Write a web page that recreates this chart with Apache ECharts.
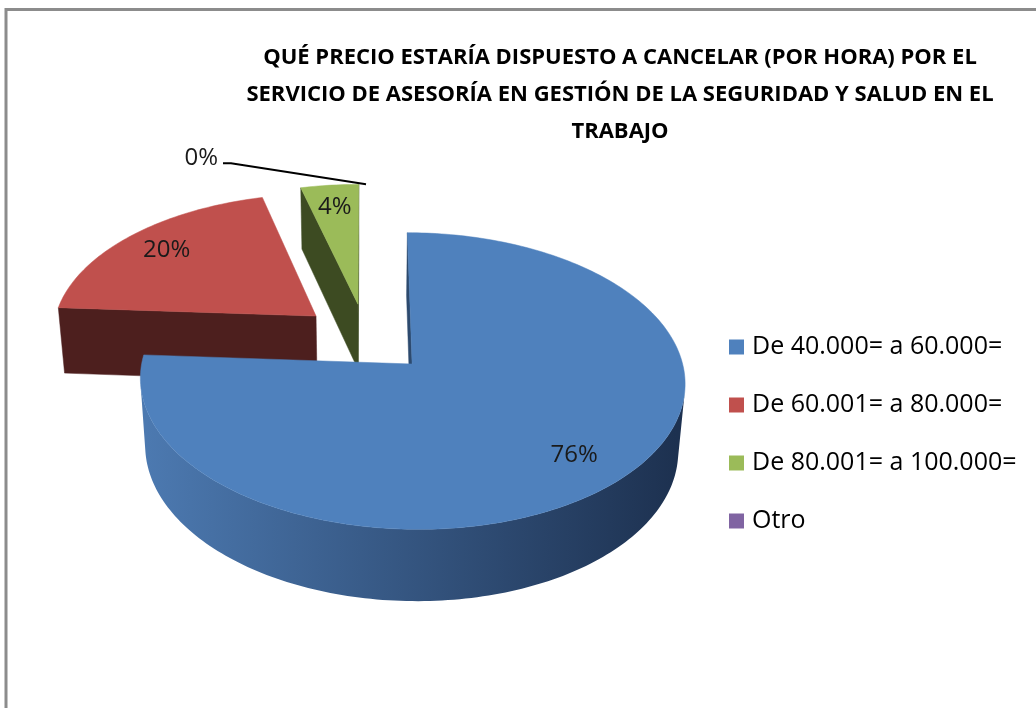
<!DOCTYPE html>
<html>
<head>
    <meta charset="utf-8">
    <title>Precio por hora</title>
    <script src="https://cdn.jsdelivr.net/npm/echarts/dist/echarts.min.js"></script>
    <style>
        html, body { margin: 0; padding: 0; background: #fff; }
    </style>
</head>
<body>
<div id="main" style="width: 1036px;height:708px;"></div>
<script type="text/javascript">
// datos
var titleText = 'QUÉ PRECIO ESTARÍA DISPUESTO A CANCELAR (POR HORA) POR EL\nSERVICIO DE ASESORÍA EN GESTIÓN DE LA SEGURIDAD Y SALUD EN EL\nTRABAJO';
var categories = ['De 40.000= a 60.000=', 'De 60.001= a 80.000=', 'De 80.001= a 100.000=', 'Otro'];
var values = [76, 20, 4, 0];

// colores (cara superior, paredes radiales, lateral exterior)
var topColors = ['#4f81bd', '#c0504d', '#9bbb59', '#8064a2'];
var wallColors = ['#2d4a6e', '#4d1f1e', '#3d4b22', '#4a3a5f'];
var sideLight = ['#4c79b0', '#7a2f2d', '#5c7035', '#5d4878'];
var sideDark = ['#1d3150', '#4a1c1b', '#39461f', '#3a2c4c'];

// geometria del pastel 3D
var CX = 366, CY = 338, R = 265, H = 80, EXPLODE = 66, D = 2000;
var SIN = 0.53, COS = Math.sqrt(1 - SIN * SIN);
var CAM = [0, -D * COS];
var FONT = '"Open Sans", "Noto Sans", sans-serif';

function proj(X, Y, Z) {
    var s = D / (D + Y * COS - Z * SIN);
    return [CX + s * X, CY - s * (Y * SIN + Z * COS)];
}

var total = values.reduce(function (a, b) { return a + b; }, 0);
var slices = [];
var cum = 0;
values.forEach(function (v) {
    var a0 = 2 * Math.PI * cum / total;
    var a1 = 2 * Math.PI * (cum + v) / total;
    var mid = (a0 + a1) / 2;
    slices.push({ a0: a0, a1: a1, mid: mid, ox: EXPLODE * Math.sin(mid), oy: EXPLODE * Math.cos(mid) });
    cum += v;
});

// orden de pintado: lo de atras primero
var order = values.map(function (v, i) { return i; }).sort(function (a, b) {
    if (values[a] === 0) return 1;
    if (values[b] === 0) return -1;
    return slices[b].oy - slices[a].oy;
});
var zOf = [];
order.forEach(function (idx, k) { zOf[idx] = 2 + k; });

function renderSlice(i) {
    return function (params, api) {
        var sl = slices[i];
        var v = api.value(0);
        var ox = sl.ox, oy = sl.oy;
        var kids = [];
        function pt(th, r, z) {
            return proj(ox + r * Math.sin(th), oy + r * Math.cos(th), z);
        }
        var pct = Math.round(v / total * 100) + '%';
        if (v > 0) {
            var n = Math.max(2, Math.ceil((sl.a1 - sl.a0) / 0.02));
            var ths = [];
            for (var k = 0; k <= n; k++) ths.push(sl.a0 + (sl.a1 - sl.a0) * k / n);

            // paredes radiales
            [[sl.a0, -1], [sl.a1, 1]].forEach(function (w) {
                var th = w[0], sg = w[1];
                var nx = sg * Math.cos(th), ny = -sg * Math.sin(th);
                var mx = ox + R / 2 * Math.sin(th), my = oy + R / 2 * Math.cos(th);
                if (nx * (CAM[0] - mx) + ny * (CAM[1] - my) > 0) {
                    kids.push({
                        type: 'polygon',
                        shape: { points: [pt(0, 0, 0), pt(th, R, 0), pt(th, R, -H), pt(0, 0, -H)] },
                        style: { fill: wallColors[i], stroke: wallColors[i], lineWidth: 0.5 }
                    });
                }
            });

            // lateral exterior visible
            var grad = new echarts.graphic.LinearGradient(CX + ox - R, 0, CX + ox + R, 0, [
                { offset: 0, color: sideLight[i] },
                { offset: 1, color: sideDark[i] }
            ], true);
            var run = [];
            function flush() {
                if (run.length > 1) {
                    var top = run.map(function (th) { return pt(th, R, 0); });
                    var bot = run.map(function (th) { return pt(th, R, -H); }).reverse();
                    kids.push({
                        type: 'polygon',
                        shape: { points: top.concat(bot) },
                        style: { fill: grad }
                    });
                }
                run = [];
            }
            for (var j = 0; j < n; j++) {
                var tm = (ths[j] + ths[j + 1]) / 2;
                var px = ox + R * Math.sin(tm), py = oy + R * Math.cos(tm);
                var vis = Math.sin(tm) * (CAM[0] - px) + Math.cos(tm) * (CAM[1] - py) > 0;
                if (vis) {
                    if (!run.length) run.push(ths[j]);
                    run.push(ths[j + 1]);
                } else {
                    flush();
                }
            }
            flush();

            // cara superior
            var face = [pt(0, 0, 0)].concat(ths.map(function (th) { return pt(th, R, 0); }));
            kids.push({
                type: 'polygon',
                shape: { points: face },
                style: { fill: topColors[i], stroke: topColors[i], lineWidth: 0.5 }
            });

            var lp = pt(sl.mid, R * 0.8, 0);
            kids.push({
                type: 'text', x: lp[0], y: lp[1],
                style: { text: pct, fill: '#1a1a1a', font: '24px ' + FONT, align: 'center', verticalAlign: 'middle' }
            });
        } else {
            // porcion vacia: etiqueta con linea guia
            var rp = pt(sl.mid, R, 0);
            var ep = [rp[0] - 135, rp[1] - 21];
            kids.push({
                type: 'polyline',
                shape: { points: [rp, ep, [ep[0] - 8, ep[1]]] },
                style: { stroke: '#000', lineWidth: 2, fill: null }
            });
            kids.push({
                type: 'text', x: ep[0] - 13, y: ep[1] - 5,
                style: { text: pct, fill: '#1a1a1a', font: '24px ' + FONT, align: 'right', verticalAlign: 'middle' }
            });
        }
        return { type: 'group', children: kids };
    };
}

var myChart = echarts.init(document.getElementById('main'));
myChart.setOption({
    animation: false,
    backgroundColor: '#fff',
    title: {
        text: titleText,
        left: 615,
        top: 34,
        textAlign: 'center',
        textStyle: {
            fontFamily: FONT,
            fontWeight: 'bold',
            fontSize: 22,
            lineHeight: 37,
            color: '#000'
        }
    },
    legend: {
        orient: 'vertical',
        left: 724,
        top: 327,
        icon: 'rect',
        itemWidth: 15,
        itemHeight: 15,
        itemGap: 28,
        data: categories,
        textStyle: {
            fontFamily: FONT,
            fontSize: 25,
            lineHeight: 30,
            color: '#000',
            padding: [0, 0, 0, 3]
        }
    },
    graphic: [{
        type: 'rect',
        shape: { x: 6, y: 9.5, width: 1200, height: 900 },
        style: { fill: null, stroke: '#8c8c8c', lineWidth: 3 },
        silent: true
    }],
    series: categories.map(function (name, i) {
        return {
            type: 'custom',
            name: name,
            coordinateSystem: 'none',
            renderItem: renderSlice(i),
            data: [[values[i]]],
            itemStyle: { color: topColors[i] },
            z: zOf[i],
            silent: true
        };
    })
});
</script>
</body>
</html>
